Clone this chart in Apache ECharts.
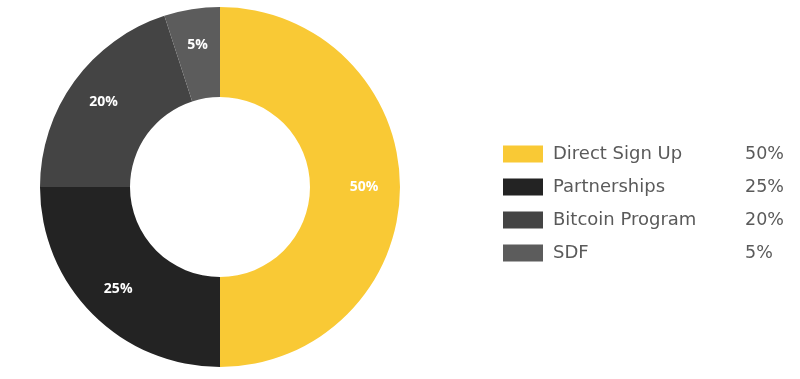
<!DOCTYPE html>
<html><head><meta charset="utf-8">
<script src="https://cdn.jsdelivr.net/npm/echarts@6/dist/echarts.min.js"></script>
<style>html,body{margin:0;padding:0;background:#fff}#c{width:800px;height:379px}</style>
</head><body><div id="c"></div>
<script>
const categories = ['Direct Sign Up', 'Partnerships', 'Bitcoin Program', 'SDF'];
const values = [50, 25, 20, 5];
const colors = ['#F9C935', '#232323', '#444444', '#5C5C5C'];

const chart = echarts.init(document.getElementById('c'), null, {renderer: 'canvas'});
const data = categories.map((n, i) => ({name: n, value: values[i], itemStyle: {color: colors[i]}}));
const labelData = categories.map((n, i) => ({name: n, value: values[i], itemStyle: {color: 'rgba(0,0,0,0)'}}));
chart.setOption({
  animation: false,
  legend: {
    orient: 'vertical',
    left: 503,
    top: 145,
    padding: 0,
    itemWidth: 40,
    itemHeight: 17,
    itemGap: 15,
    icon: 'rect',
    data: categories,
    formatter: function (name) {
      const i = categories.indexOf(name);
      return '{n|' + name + '}{p|' + values[i] + '%}';
    },
    textStyle: {
      rich: {
        n: {width: 192, fontSize: 18, color: '#5a5a5a', fontFamily: 'DejaVu Sans', padding: [0, 0, 0, 5]},
        p: {fontSize: 17.5, color: '#5a5a5a', fontFamily: 'DejaVu Sans'}
      }
    }
  },
  series: [{
    type: 'pie',
    center: [220, 187],
    radius: [90, 180],
    startAngle: 90,
    clockwise: true,
    label: {show: false},
    labelLine: {show: false},
    emphasis: {disabled: true},
    data: data
  }, {
    type: 'pie',
    center: [220, 187],
    radius: [90, 192],
    startAngle: 90,
    clockwise: true,
    silent: true,
    legendHoverLink: false,
    label: {
      show: true,
      position: 'inside',
      formatter: '{c}%',
      color: '#fff',
      fontSize: 14,
      fontWeight: 'bold',
      fontFamily: 'Open Sans'
    },
    labelLine: {show: false},
    emphasis: {disabled: true},
    data: labelData
  }]
});
</script></body></html>
